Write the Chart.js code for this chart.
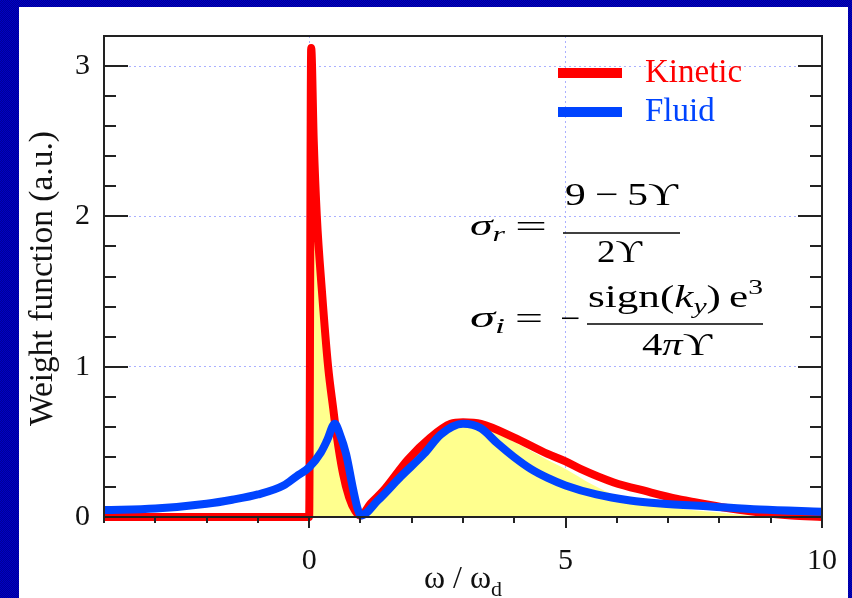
<!DOCTYPE html>
<html>
<head>
<meta charset="utf-8">
<script src="https://cdn.jsdelivr.net/npm/chart.js@4.4.0/dist/chart.umd.min.js"></script>
<style>
html, body { margin: 0; padding: 0; }
body {
    width: 852px; height: 598px; overflow: hidden; position: relative;
    background: repeating-conic-gradient(#000098 0 25%, #0000c4 0 50%) 0 0 / 2px 2px;
}
#panel { position: absolute; left: 19px; top: 7px; width: 829px; height: 591px; background: #fff; }
</style>
</head>
<body>
<div id="panel"><canvas id="weight" width="829" height="591"></canvas></div>
<script>
// values
const kineticX = [-4, -3, -2, -1, 0, 0.04, 0.09, 0.15, 0.25, 0.37, 0.47, 0.53, 0.66, 0.78, 0.9, 1.0, 1.2, 1.46, 1.92, 2.37, 2.76, 3.0, 3.35, 3.99, 4.65, 5.0, 5.29, 5.94, 6.59, 7.18, 7.49, 8.15, 8.79, 9.4, 10];
const kineticY = [0, 0, 0, 0, 0, 3.12, 2.5, 2.0, 1.5, 1.0, 0.72, 0.56, 0.29, 0.13, 0.04, 0.01, 0.09, 0.18, 0.38, 0.53, 0.62, 0.63, 0.62, 0.53, 0.42, 0.37, 0.32, 0.23, 0.17, 0.12, 0.1, 0.06, 0.03, 0.01, 0];

const fluidX = [-4, -3, -2, -1.5, -1, -0.5, -0.25, 0, 0.23, 0.35, 0.5, 0.6, 0.72, 0.86, 0.95, 1.01, 1.34, 1.79, 2.24, 2.57, 3.0, 3.35, 3.67, 3.99, 4.32, 4.65, 5.0, 5.6, 6.26, 6.85, 7.82, 8.79, 10];
const fluidY = [0.046, 0.056, 0.088, 0.115, 0.15, 0.21, 0.27, 0.33, 0.43, 0.51, 0.62, 0.55, 0.42, 0.18, 0.05, 0.01, 0.11, 0.27, 0.42, 0.55, 0.62, 0.59, 0.49, 0.40, 0.32, 0.26, 0.21, 0.15, 0.11, 0.09, 0.07, 0.05, 0.035];

// shaded area under the kinetic weight
const shadeX = [0, 0.04, 0.09, 0.15, 0.25, 0.37, 0.47, 0.53, 0.66, 0.78, 0.9, 1.0, 1.2, 1.46, 1.92, 2.37, 2.76, 3.0, 3.35, 3.99, 4.65, 5.0, 5.5, 6.0, 6.5, 7.0, 7.5, 8.0, 8.5, 9.0, 10];
const shadeY = [0, 3.1, 2.48, 1.98, 1.48, 0.98, 0.7, 0.54, 0.27, 0.12, 0.03, 0, 0.07, 0.16, 0.36, 0.51, 0.6, 0.61, 0.6, 0.5, 0.38, 0.32, 0.22, 0.14, 0.09, 0.065, 0.045, 0.03, 0.012, 0, 0];

const xMin = -4, xMax = 10;
const yMin = 0, yMax = 3.2;
const xLabelTicks = [0, 5, 10];
const yLabelTicks = [0, 1, 2, 3];

const seriesNames = ['Fluid', 'Kinetic'];
const xTitle = ['ω / ω', 'd'];
const yTitle = 'Weight function (a.u.)';

const RED = '#ff0000';
const BLUE = '#0044ff';
const serif = '"Liberation Serif", "DejaVu Serif", serif';

const pts = (xs, ys) => xs.map((x, i) => ({ x: x, y: ys[i] }));
const near = (v, list) => list.some(t => Math.abs(t - v) < 1e-6);
const rm = size => size + 'px ' + serif;
const it = size => 'italic ' + size + 'px ' + serif;

function runsWidth(ctx, runs) {
    let w = 0;
    runs.forEach(r => {
        ctx.font = r.font;
        w += ctx.measureText(r.t).width + (r.gap || 0);
    });
    return w;
}

// draw a row of text pieces squeezed between left and right
function drawRuns(ctx, runs, left, right, baseline) {
    const sx = (right - left) / runsWidth(ctx, runs);
    ctx.save();
    ctx.translate(left, baseline);
    ctx.scale(sx, 1);
    ctx.textAlign = 'left';
    ctx.textBaseline = 'alphabetic';
    let x = 0;
    runs.forEach(r => {
        ctx.font = r.font;
        ctx.fillText(r.t, x, r.dy || 0);
        x += ctx.measureText(r.t).width + (r.gap || 0);
    });
    ctx.restore();
}

function bar(ctx, x1, x2, y) {
    ctx.beginPath();
    ctx.moveTo(x1, y);
    ctx.lineTo(x2, y);
    ctx.stroke();
}

const decorations = {
    id: 'decorations',
    afterDatasetsDraw(chart) {
        const { ctx, chartArea: a, scales: { x, y } } = chart;
        ctx.save();

        // frame and tick marks
        ctx.strokeStyle = '#222';
        ctx.lineWidth = 2;
        ctx.strokeRect(a.left, a.top, a.right - a.left, a.bottom - a.top);
        ctx.beginPath();
        y.ticks.forEach(t => {
            const py = Math.round(y.getPixelForValue(t.value));
            const len = near(t.value, yLabelTicks) ? 24 : 12;
            ctx.moveTo(a.left, py); ctx.lineTo(a.left + len, py);
            ctx.moveTo(a.right, py); ctx.lineTo(a.right - len, py);
        });
        x.ticks.forEach(t => {
            const px = Math.round(x.getPixelForValue(t.value));
            const len = near(t.value, xLabelTicks) ? 11 : 6;
            ctx.moveTo(px, a.bottom); ctx.lineTo(px, a.bottom + len);
        });
        ctx.stroke();

        // legend
        const legendColors = [BLUE, RED];
        ctx.lineWidth = 10;
        ctx.lineCap = 'butt';
        [1, 0].forEach((k, row) => {
            const ly = 66 + row * 39;
            ctx.strokeStyle = legendColors[k];
            bar(ctx, 539, 603, ly);
            ctx.fillStyle = legendColors[k];
            ctx.font = rm(33);
            ctx.textAlign = 'left';
            ctx.textBaseline = 'alphabetic';
            ctx.fillText(seriesNames[k], 626, ly + 9);
        });

        // formulas
        ctx.fillStyle = '#000';
        ctx.strokeStyle = '#000';
        ctx.lineWidth = 1.6;
        drawRuns(ctx, [{ t: 'σ', font: it(30) }, { t: 'r', font: it(21), dy: 6 }], 451, 486, 228);
        drawRuns(ctx, [{ t: '=', font: rm(32) }], 496, 528, 230);
        drawRuns(ctx, [{ t: '9', font: rm(32), gap: 7 }, { t: '−', font: rm(32), gap: 7 }, { t: '5', font: rm(32) }, { t: 'ϒ', font: rm(32) }], 546, 659, 198);
        bar(ctx, 544, 661, 226);
        drawRuns(ctx, [{ t: '2', font: rm(32) }, { t: 'ϒ', font: rm(32) }], 578, 623, 255);

        drawRuns(ctx, [{ t: 'σ', font: it(30) }, { t: 'i', font: it(21), dy: 6 }], 451, 486, 320);
        drawRuns(ctx, [{ t: '=', font: rm(32) }], 496, 524, 322);
        drawRuns(ctx, [{ t: '−', font: rm(32) }], 541, 561, 322);
        drawRuns(ctx, [
            { t: 'sign(', font: rm(32) }, { t: 'k', font: it(32) }, { t: 'y', font: it(22), dy: 6 },
            { t: ')', font: rm(32), gap: 6 }, { t: 'e', font: rm(32) }, { t: '3', font: rm(22), dy: -13 }
        ], 569, 744, 300);
        bar(ctx, 568, 744, 317);
        drawRuns(ctx, [{ t: '4', font: rm(32) }, { t: 'π', font: it(32) }, { t: 'ϒ', font: rm(32) }], 623, 693, 348);

        // axis titles
        ctx.fillStyle = '#111';
        ctx.save();
        ctx.translate(24, (a.top + a.bottom) / 2 + 2);
        ctx.rotate(-Math.PI / 2);
        ctx.font = rm(33.5);
        ctx.textAlign = 'center';
        ctx.textBaseline = 'middle';
        ctx.fillText(yTitle, 0, 0);
        ctx.restore();

        const xRuns = [{ t: xTitle[0], font: rm(32) }, { t: xTitle[1], font: rm(22), dy: 8 }];
        const w = runsWidth(ctx, xRuns);
        const cx = (a.left + a.right) / 2;
        drawRuns(ctx, xRuns, cx - w / 2, cx + w / 2, 581);

        ctx.restore();
    }
};

const gridColor = '#aab0ff';

new Chart(document.getElementById('weight'), {
    type: 'line',
    data: {
        datasets: [{
            label: seriesNames[0],
            data: pts(fluidX, fluidY),
            borderColor: BLUE,
            borderWidth: 8,
            pointRadius: 0,
            fill: false,
            clip: 6,
            cubicInterpolationMode: 'monotone'
        }, {
            label: seriesNames[1],
            data: pts(kineticX, kineticY),
            borderColor: RED,
            borderWidth: 8,
            pointRadius: 0,
            fill: false,
            clip: 6,
            cubicInterpolationMode: 'monotone'
        }, {
            label: 'shade',
            data: pts(shadeX, shadeY),
            borderWidth: 0,
            borderColor: 'rgba(0,0,0,0)',
            backgroundColor: '#ffff8e',
            pointRadius: 0,
            fill: 'origin',
            cubicInterpolationMode: 'monotone'
        }]
    },
    options: {
        responsive: false,
        animation: false,
        layout: {
            padding: { left: 0, right: 26, top: 29, bottom: 0 }
        },
        plugins: {
            legend: { display: false },
            tooltip: { enabled: false }
        },
        scales: {
            x: {
                type: 'linear',
                min: xMin,
                max: xMax,
                afterFit: scale => {
                    scale.height = 81;
                    scale.paddingLeft = 0;
                    scale.paddingRight = 0;
                },
                border: { display: false, dash: [2, 3] },
                grid: {
                    drawTicks: false,
                    color: c => (c.tick && near(c.tick.value, [0, 5]) ? gridColor : 'rgba(0,0,0,0)'),
                    lineWidth: 1
                },
                ticks: {
                    stepSize: 1,
                    padding: 26,
                    maxRotation: 0,
                    autoSkip: false,
                    color: '#111',
                    font: { family: serif, size: 30 },
                    callback: v => (near(v, xLabelTicks) ? String(Math.round(v)) : '')
                }
            },
            y: {
                min: yMin,
                max: yMax,
                afterFit: scale => {
                    scale.width = 85;
                    scale.paddingTop = 0;
                    scale.paddingBottom = 0;
                },
                border: { display: false, dash: [2, 3] },
                grid: {
                    drawTicks: false,
                    color: c => (c.tick && near(c.tick.value, [1, 2, 3]) ? gridColor : 'rgba(0,0,0,0)'),
                    lineWidth: 1
                },
                ticks: {
                    stepSize: 0.2,
                    padding: 14,
                    autoSkip: false,
                    color: '#111',
                    font: { family: serif, size: 30 },
                    callback: v => (near(v, yLabelTicks) ? String(Math.round(v)) : '')
                }
            }
        }
    },
    plugins: [decorations]
});
</script>
</body>
</html>
